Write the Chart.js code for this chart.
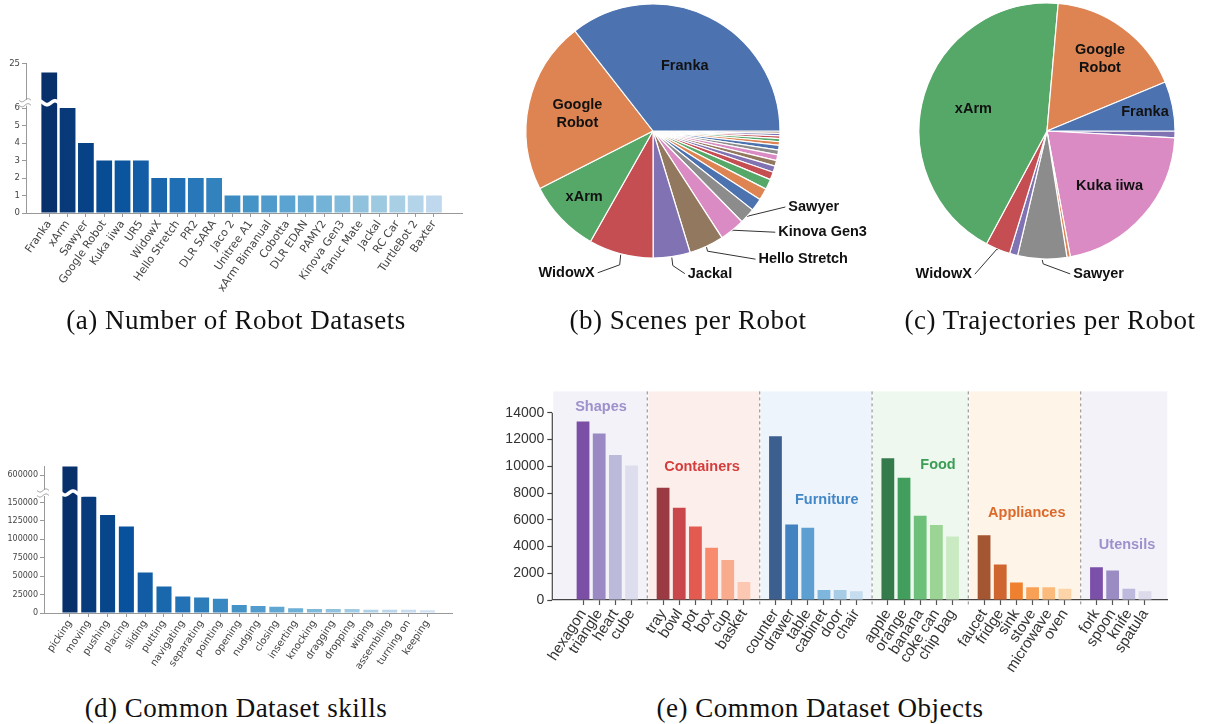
<!DOCTYPE html>
<html>
<head>
<meta charset="utf-8">
<script src="https://cdn.jsdelivr.net/npm/chart.js@4.4.0/dist/chart.umd.min.js"></script>
<style>
  html, body { margin: 0; padding: 0; background: #fff; }
  #wrap { position: relative; width: 1210px; height: 724px; overflow: hidden; background: #fff; }
  canvas { position: absolute; }
  .cap { position: absolute; font-family: "Liberation Serif", "Times New Roman", serif; font-size: 27px;
         letter-spacing: 0.5px; color: #111; white-space: nowrap; transform: translateX(-50%); line-height: 30px; }
</style>
</head>
<body>
<div id="wrap">
  <canvas id="chartA" width="480" height="310" style="left:0px;top:0px;width:480px;height:310px"></canvas>
  <canvas id="chartB" width="420" height="300" style="left:480px;top:0px;width:420px;height:300px"></canvas>
  <canvas id="chartC" width="310" height="300" style="left:900px;top:0px;width:310px;height:300px"></canvas>
  <canvas id="chartD" width="480" height="250" style="left:0px;top:440px;width:480px;height:250px"></canvas>
  <canvas id="chartE" width="720" height="300" style="left:490px;top:380px;width:720px;height:300px"></canvas>
  <div class="cap" style="left:236px;top:305px">(a) Number of Robot Datasets</div>
  <div class="cap" style="left:688px;top:305px">(b) Scenes per Robot</div>
  <div class="cap" style="left:1050px;top:305px">(c) Trajectories per Robot</div>
  <div class="cap" style="left:236px;top:693px">(d) Common Dataset skills</div>
  <div class="cap" style="left:820px;top:693px">(e) Common Dataset Objects</div>
</div>
<script>
// ---- data ----
const robotNames = ['Franka', 'xArm', 'Sawyer', 'Google Robot', 'Kuka iiwa', 'UR5', 'WidowX', 'Hello Stretch',
  'PR2', 'DLR SARA', 'Jaco 2', 'Unitree A1', 'xArm Bimanual', 'Cobotta', 'DLR EDAN', 'PAMY2',
  'Kinova Gen3', 'Fanuc Mate', 'Jackal', 'RC Car', 'TurtleBot 2', 'Baxter'];
const robotDatasets = [23, 6, 4, 3, 3, 3, 2, 2, 2, 2, 1, 1, 1, 1, 1, 1, 1, 1, 1, 1, 1, 1];
const robotTicksLow = [0, 1, 2, 3, 4, 5, 6];
const robotTicksHigh = [25];

const sceneRobots = ['Franka', 'Google Robot', 'xArm', 'WidowX', 'Jackal', 'Hello Stretch', 'Kinova Gen3', 'Sawyer',
  'UR5', 'Kuka iiwa', 'DLR SARA', 'PR2', 'Jaco 2', 'Unitree A1', 'xArm Bimanual', 'Cobotta',
  'DLR EDAN', 'PAMY2', 'Fanuc Mate', 'RC Car', 'TurtleBot 2', 'Baxter'];
const sceneShares = [35.5, 21.9, 9.3, 8.2, 4.7, 4.4, 3.2, 2.0,
  1.6, 1.5, 1.3, 1.0, 0.8, 0.7, 0.75, 0.6, 0.6, 0.45, 0.4, 0.35, 0.3, 0.3];

const trajRobots = ['Franka', 'Google Robot', 'xArm', 'WidowX', 'Jackal', 'Sawyer', 'UR5', 'Kuka iiwa', 'PR2'];
const trajShares = [6.25, 17.36, 43.56, 3.11, 1.03, 6.19, 0.42, 21.22, 0.86];

const skills = ['picking', 'moving', 'pushing', 'placing', 'sliding', 'putting', 'navigating', 'separating',
  'pointing', 'opening', 'nudging', 'closing', 'inserting', 'knocking', 'dragging', 'dropping',
  'wiping', 'assembling', 'turning on', 'keeping'];
const skillCounts = [630000, 158000, 133000, 117500, 55000, 36000, 22500, 21000, 19500, 11000, 9500, 8500,
  6500, 5500, 5500, 5500, 4500, 4500, 4500, 3800];
const skillTicksLow = [0, 25000, 50000, 75000, 100000, 125000, 150000];
const skillTicksHigh = [600000];

const objectGroups = ['Shapes', 'Containers', 'Furniture', 'Food', 'Appliances', 'Utensils'];
const shapeNames = ['hexagon', 'triangle', 'heart', 'cube'];
const shapeCounts = [13350, 12450, 10850, 10050];
const containerNames = ['tray', 'bowl', 'pot', 'box', 'cup', 'basket'];
const containerCounts = [8400, 6900, 5500, 3900, 3000, 1350];
const furnitureNames = ['counter', 'drawer', 'table', 'cabinet', 'door', 'chair'];
const furnitureCounts = [12250, 5650, 5400, 750, 750, 650];
const foodNames = ['apple', 'orange', 'banana', 'coke can', 'chip bag'];
const foodCounts = [10600, 9150, 6300, 5600, 4750];
const applianceNames = ['faucet', 'fridge', 'sink', 'stove', 'microwave', 'oven'];
const applianceCounts = [4850, 2650, 1300, 950, 950, 850];
const utensilNames = ['fork', 'spoon', 'knife', 'spatula'];
const utensilCounts = [2450, 2200, 850, 650];
const objectTicks = [0, 2000, 4000, 6000, 8000, 10000, 12000, 14000];

// ---- styles ----
const sansFont = '"Liberation Sans", Arial, sans-serif';
const dvFont = '"DejaVu Sans", sans-serif';
const pieColors8 = ['#4c72b0', '#dd8452', '#55a868', '#c44e52', '#8172b3', '#937860', '#da8bc3', '#8c8c8c'];
const trajColors = ['#4c72b0', '#dd8452', '#55a868', '#c44e52', '#8172b3', '#8c8c8c', '#dd8452', '#da8bc3', '#8172b3'];
const groupColors = [
  ['#7b4fa6', '#9a89c2', '#bcbadb', '#dedded'],
  ['#9b3a43', '#c9474b', '#e25a50', '#f88a6e', '#f9ab8e', '#fcc8b2'],
  ['#3c5f8f', '#4382c0', '#5c9fd0', '#7fb6dd', '#a7cde6', '#c6dcef'],
  ['#357a4a', '#429e5d', '#6cc07a', '#9bd494', '#c9eac2'],
  ['#a45633', '#cf6630', '#ee8030', '#f9a057', '#fbbb7d', '#fdd4a8'],
  ['#7a50a8', '#9b8bc3', '#bdb9dc', '#dcdaeb']
];
const bandColors = ['#f3f2f9', '#fcefeb', '#eef4fb', '#eef8ef', '#fef4e8', '#f3f2f9'];
const groupLabelColors = ['#9e90cb', '#d43d3b', '#4287c8', '#3c9e56', '#dc6a2c', '#9e90cb'];
const groupLabelX = [1.11, 7.36, 15.07, 21.95, 27.44, 33.64];
const groupLabelY = [14450, 9960, 7490, 10090, 6490, 4140];
const groupGap = 1.95;

function blues(t) {
  const stops = ['#f7fbff', '#deebf7', '#c6dbef', '#9ecae1', '#6baed6', '#4292c6', '#2171b5', '#08519c', '#08306b'];
  const p = Math.max(0, Math.min(1, t)) * 8;
  const i = Math.min(7, Math.floor(p)), f = p - i;
  const a = parseInt(stops[i].slice(1), 16), b = parseInt(stops[i + 1].slice(1), 16);
  const mix = s => { const u = (a >> s) & 255, v = (b >> s) & 255; return Math.round(u + (v - u) * f); };
  return 'rgb(' + mix(16) + ',' + mix(8) + ',' + mix(0) + ')';
}

Chart.defaults.animation = false;
Chart.defaults.plugins.legend.display = false;
Chart.defaults.plugins.tooltip.enabled = false;

const plainNumber = v => String(v);

function wave(ctx, x0, x1, y, amp, period) {
  ctx.beginPath();
  for (let x = x0; x <= x1; x += 0.5) {
    const yy = y + amp * Math.sin((x - x0) / period * 2 * Math.PI);
    if (x === x0) ctx.moveTo(x, yy); else ctx.lineTo(x, yy);
  }
  ctx.stroke();
}

// break mark between the two stacked y scales
const brokenAxis = {
  id: 'brokenAxis',
  afterDraw(chart) {
    const ctx = chart.ctx, area = chart.chartArea;
    const by = chart.scales.y.top;
    ctx.save();
    ctx.strokeStyle = '#fff';
    ctx.lineWidth = 3.5;
    wave(ctx, area.left + 1, area.right, by, 2, 16);
    ctx.fillStyle = '#fff';
    ctx.fillRect(area.left - 2, by - 3, 4, 6);
    ctx.strokeStyle = '#999';
    ctx.lineWidth = 1;
    wave(ctx, area.left - 7, area.left + 5, by - 2.5, 1.6, 12);
    wave(ctx, area.left - 7, area.left + 5, by + 2.5, 1.6, 12);
    ctx.restore();
  }
};

function brokenBarChart(id, names, values, ticksLow, ticksHigh, cfg) {
  const colors = names.map((_, i) => blues(1 - i * cfg.colorSpan / (names.length - 1)));
  const lowData = values.map((v, i) => ({ x: i, y: Math.min(v, cfg.lowMax) }));
  const highData = values.map((v, i) => ({ x: i, y: v > cfg.lowMax ? v : null }));
  const axisGrid = { drawOnChartArea: false, tickLength: 4, color: '#999', tickColor: '#999' };
  const yTicks = { font: { family: dvFont, size: cfg.yFont }, color: '#444', padding: 2, callback: plainNumber };
  return new Chart(document.getElementById(id), {
    type: 'bar',
    data: {
      datasets: [
        { data: lowData, yAxisID: 'y', backgroundColor: colors, grouped: false,
          barPercentage: cfg.barPct, categoryPercentage: 1 },
        { data: highData, yAxisID: 'y2', backgroundColor: colors, grouped: false,
          barPercentage: cfg.barPct, categoryPercentage: 1 }
      ]
    },
    options: {
      responsive: false,
      layout: { padding: cfg.padding },
      scales: {
        x: {
          type: 'linear', offset: false, min: cfg.xMin, max: cfg.xMax,
          afterBuildTicks: s => { s.ticks = names.map((_, i) => ({ value: i })); },
          afterFit: s => { s.height = cfg.xHeight; },
          ticks: { autoSkip: false, minRotation: cfg.rot, maxRotation: cfg.rot, padding: 1,
                   callback: (v, i) => names[i], font: { family: dvFont, size: cfg.xFont }, color: '#444' },
          grid: Object.assign({ offset: false }, axisGrid), border: { color: '#999' }
        },
        y: {
          stack: 'v', stackWeight: cfg.lowWeight, min: 0, max: cfg.lowMax,
          afterBuildTicks: s => { s.ticks = ticksLow.map(v => ({ value: v })); },
          afterFit: s => { s.width = cfg.yWidth; },
          ticks: yTicks, grid: axisGrid, border: { color: '#999' }
        },
        y2: {
          stack: 'v', stackWeight: cfg.highWeight, min: cfg.highMin, max: cfg.highMax,
          afterBuildTicks: s => { s.ticks = ticksHigh.map(v => ({ value: v })); },
          afterFit: s => { s.width = cfg.yWidth; },
          ticks: yTicks, grid: axisGrid, border: { color: '#999' }
        }
      }
    },
    plugins: [brokenAxis]
  });
}

// (a) number of robot datasets
brokenBarChart('chartA', robotNames, robotDatasets, robotTicksLow, robotTicksHigh, {
  colorSpan: 0.73, lowMax: 6.3, highMin: 16, highMax: 25.2, lowWeight: 110.25, highWeight: 39.75,
  xMin: -1.27, xMax: 22.53, barPct: 0.86, rot: 55, xFont: 11, yFont: 8.5,
  yWidth: 26, xHeight: 97, padding: { top: 63, right: 18, left: 0, bottom: 0 }
});

// (d) common dataset skills
brokenBarChart('chartD', skills, skillCounts, skillTicksLow, skillTicksHigh, {
  colorSpan: 0.8, lowMax: 163000, highMin: 540000, highMax: 632000, lowWeight: 120, highWeight: 27,
  xMin: -1.38, xMax: 20.35, barPct: 0.8, rot: 56, xFont: 10, yFont: 8,
  yWidth: 44, xHeight: 77, padding: { top: 26, right: 27.3, left: 0, bottom: 0 }
});

// ---- pies ----
const pieLabels = {
  id: 'pieLabels',
  afterDraw(chart, args, opts) {
    const ctx = chart.ctx, meta = chart.getDatasetMeta(0), labels = chart.data.labels;
    ctx.save();
    ctx.font = 'bold 14.5px ' + sansFont;
    ctx.fillStyle = '#111';
    ctx.strokeStyle = '#333';
    ctx.lineWidth = 1;
    ctx.textBaseline = 'middle';
    meta.data.forEach((arc, i) => {
      const spec = opts.layout[labels[i]];
      if (!spec) return;
      const p = arc.getProps(['x', 'y', 'startAngle', 'endAngle', 'outerRadius'], true);
      const mid = (p.startAngle + p.endAngle) / 2;
      const c = Math.cos(mid), s = Math.sin(mid);
      if (spec.r) {
        const tx = p.x + p.outerRadius * spec.r * c, ty = p.y + p.outerRadius * spec.r * s;
        ctx.textAlign = 'center';
        const lines = spec.wrap ? labels[i].split(' ') : [labels[i]];
        lines.forEach((ln, k) => ctx.fillText(ln, tx, ty + (k - (lines.length - 1) / 2) * 18.3));
      } else {
        const ex = p.x + p.outerRadius * c, ey = p.y + p.outerRadius * s;
        const tx = ex + spec.dx, ty = ey + spec.dy;
        const drop = spec.elbow !== undefined ? spec.elbow : Math.max(0, spec.dy - 8);
        const right = spec.dx > 0;
        ctx.beginPath();
        ctx.moveTo(ex, ey + 1);
        ctx.lineTo(ex + (right ? 1 : -1), ey + drop);
        ctx.lineTo(tx + (right ? -3 : 3), ty);
        ctx.stroke();
        ctx.textAlign = right ? 'left' : 'right';
        ctx.fillText(labels[i], tx, ty);
      }
    });
    ctx.restore();
  }
};

function pieChart(id, names, shares, colors, radius, padding, layout) {
  // reversed order + 3 o'clock start gives a counter-clockwise layout
  return new Chart(document.getElementById(id), {
    type: 'pie',
    data: {
      labels: names.slice().reverse(),
      datasets: [{ data: shares.slice().reverse(), backgroundColor: colors.slice().reverse(),
                   borderColor: '#fff', borderWidth: 1.2, hoverOffset: 0, radius: radius }]
    },
    options: {
      responsive: false, rotation: 90,
      layout: { padding: padding },
      plugins: { pieLabels: { layout: layout } }
    },
    plugins: [pieLabels]
  });
}

pieChart('chartB', sceneRobots, sceneShares, sceneRobots.map((_, i) => pieColors8[i % 8]), 127,
  { left: 46, top: 4, right: 120, bottom: 42 }, {
    'Franka': { r: 0.57 },
    'Google Robot': { r: 0.61, wrap: true },
    'xArm': { r: 0.75 },
    'WidowX': { dx: -26, dy: 19 },
    'Jackal': { dx: 16, dy: 17 },
    'Hello Stretch': { dx: 52, dy: 13 },
    'Kinova Gen3': { dx: 46, dy: 2 },
    'Sawyer': { dx: 41, dy: -9 }
  });

pieChart('chartC', trajRobots, trajShares, trajColors, 128,
  { left: 19, top: 3, right: 35, bottom: 41 }, {
    'Franka': { r: 0.78 },
    'Google Robot': { r: 0.70, wrap: true },
    'xArm': { r: 0.60 },
    'Kuka iiwa': { r: 0.65 },
    'WidowX': { dx: -26, dy: 25, elbow: 0 },
    'Sawyer': { dx: 31, dy: 15, elbow: 5 }
  });

// ---- (e) common dataset objects ----
const groupNames = [shapeNames, containerNames, furnitureNames, foodNames, applianceNames, utensilNames];
const groupCounts = [shapeCounts, containerCounts, furnitureCounts, foodCounts, applianceCounts, utensilCounts];
const objNames = [], objCounts = [], objColors = [], objX = [], groupSpan = [];
let pos = 0;
groupNames.forEach((names, g) => {
  const first = pos;
  names.forEach((n, k) => {
    objNames.push(n); objCounts.push(groupCounts[g][k]); objColors.push(groupColors[g][k]);
    objX.push(pos); pos += 1;
  });
  groupSpan.push([first, pos - 1]);
  pos += groupGap - 1;
});

const objectBands = {
  id: 'objectBands',
  beforeDraw(chart) {
    const ctx = chart.ctx, area = chart.chartArea, xs = chart.scales.x;
    const edges = [area.left];
    for (let g = 0; g < groupSpan.length - 1; g++) {
      edges.push(xs.getPixelForValue((groupSpan[g][1] + groupSpan[g + 1][0]) / 2));
    }
    edges.push(area.right);
    ctx.save();
    bandColors.forEach((col, g) => {
      ctx.fillStyle = col;
      ctx.fillRect(edges[g] + 1, area.top, edges[g + 1] - edges[g] - 1, area.bottom - area.top);
    });
    ctx.strokeStyle = '#9a9a9a';
    ctx.lineWidth = 1.2;
    ctx.setLineDash([3, 3]);
    for (let g = 1; g < edges.length - 1; g++) {
      ctx.beginPath();
      ctx.moveTo(edges[g], area.top);
      ctx.lineTo(edges[g], area.bottom + 5);
      ctx.stroke();
    }
    ctx.restore();
  },
  afterDraw(chart) {
    const ctx = chart.ctx, area = chart.chartArea, xs = chart.scales.x, ys = chart.scales.y;
    ctx.save();
    ctx.strokeStyle = '#444';
    ctx.lineWidth = 1.2;
    ctx.beginPath();
    ctx.moveTo(area.left, ys.getPixelForValue(0));
    ctx.lineTo(area.left, ys.getPixelForValue(objectTicks[objectTicks.length - 1]));
    ctx.stroke();
    ctx.font = 'bold 14.5px ' + sansFont;
    ctx.textAlign = 'center';
    ctx.textBaseline = 'middle';
    objectGroups.forEach((name, g) => {
      ctx.fillStyle = groupLabelColors[g];
      ctx.fillText(name, xs.getPixelForValue(groupLabelX[g]), ys.getPixelForValue(groupLabelY[g]));
    });
    ctx.restore();
  }
};

new Chart(document.getElementById('chartE'), {
  type: 'bar',
  data: {
    datasets: [{
      data: objX.map((x, i) => ({ x: x, y: objCounts[i] })),
      backgroundColor: objColors, barPercentage: 0.79, categoryPercentage: 1
    }]
  },
  options: {
    responsive: false,
    layout: { padding: { top: 10, right: 42.7, left: 0, bottom: 0 } },
    scales: {
      x: {
        type: 'linear', offset: false, min: -1.9, max: 36.13,
        afterBuildTicks: s => { s.ticks = objX.map(v => ({ value: v })); },
        afterFit: s => { s.height = 80; },
        ticks: { autoSkip: false, minRotation: 57, maxRotation: 57, padding: 1,
                 callback: (v, i) => objNames[i], font: { family: sansFont, size: 15 }, color: '#333' },
        grid: { offset: false, drawOnChartArea: false, tickLength: 5, tickColor: '#555', tickWidth: 1.2 },
        border: { color: '#444', width: 1.2 }
      },
      y: {
        min: 0, max: 15600,
        afterBuildTicks: s => { s.ticks = objectTicks.map(v => ({ value: v })); },
        afterFit: s => { s.width = 62.3; },
        ticks: { font: { family: sansFont, size: 14 }, color: '#333', padding: 3, callback: plainNumber },
        grid: { drawOnChartArea: false, tickLength: 5, tickColor: '#444', tickWidth: 1.2 },
        border: { display: false }
      }
    }
  },
  plugins: [objectBands]
});
</script>
</body>
</html>
